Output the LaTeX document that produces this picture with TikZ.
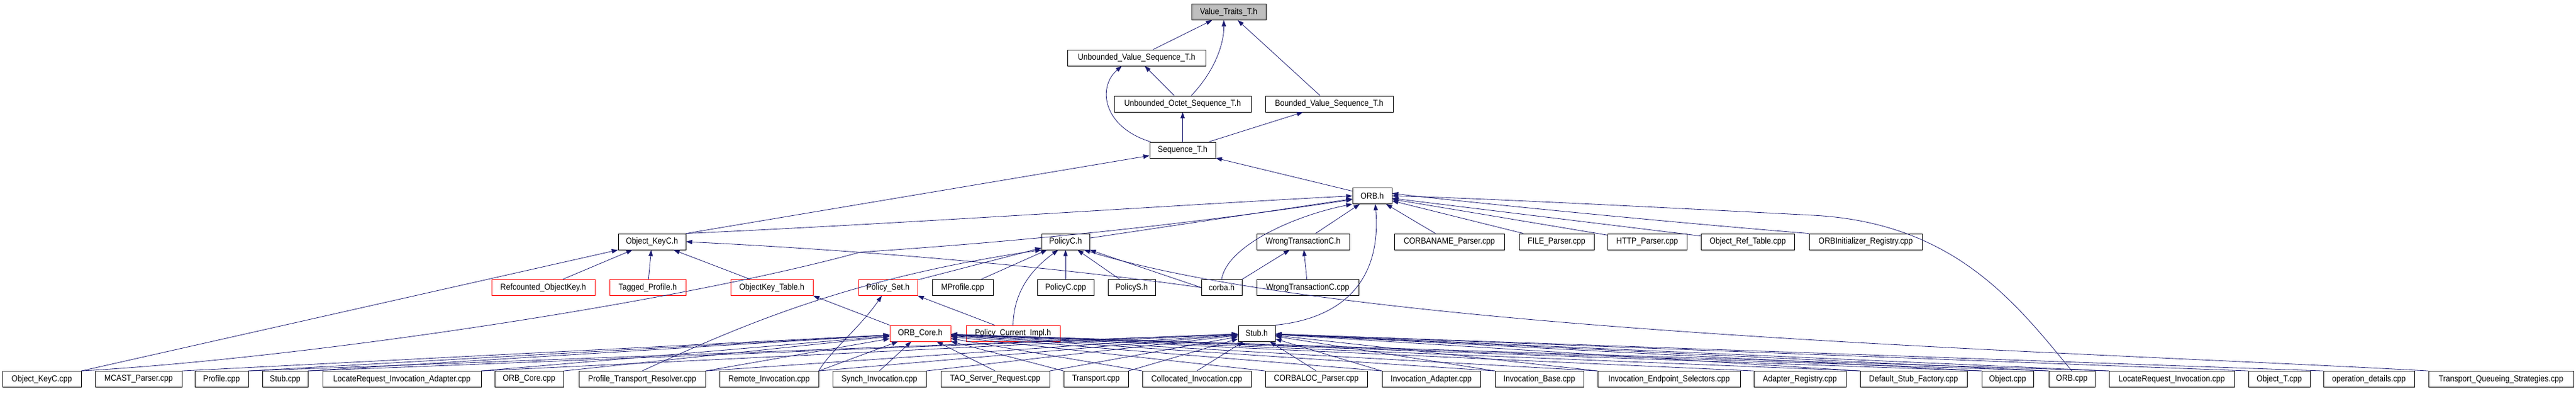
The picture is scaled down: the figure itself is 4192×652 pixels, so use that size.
\documentclass[tikz,border=0pt]{standalone}
\usepackage{fontspec}
\setmainfont{Liberation Sans}[FakeStretch=0.9]
\usetikzlibrary{arrows.meta}

\definecolor{edgeblue}{HTML}{191970}
\tikzset{
  file/.style={draw=black, line width=0.8pt, minimum height=26pt, inner sep=2pt,
    font=\fontsize{14}{16}\selectfont},
  trunc/.style={file, draw=red},
  dep/.style={draw=edgeblue, line width=0.8pt, -{Triangle[length=10pt,width=7pt]}}
}

\begin{document}
\begin{tikzpicture}[x=1pt,y=1pt]
  \useasboundingbox (0,0) rectangle (4192,652);
  % top part
  \node[file, fill=black!25, minimum width=121pt] (valtr) at (1999.5,632.5) {Value\_Traits\_T.h};
  \node[file, minimum width=225pt] (uvseq) at (1849.5,558) {Unbounded\_Value\_Sequence\_T.h};
  \node[file, minimum width=223pt] (uoseq) at (1924.5,483) {Unbounded\_Octet\_Sequence\_T.h};
  \node[file, minimum width=208pt] (bvseq) at (2163,483) {Bounded\_Value\_Sequence\_T.h};
  \node[file, minimum width=107pt] (seqt) at (1924.5,408) {Sequence\_T.h};
  \node[file, minimum width=64pt] (orbh) at (2233,333.5) {ORB.h};
  % row of headers
  \node[file, minimum width=110pt] (okeyh) at (1061,259) {Object\_KeyC.h};
  \node[file, minimum width=78pt] (polch) at (1734,259) {PolicyC.h};
  \node[file, minimum width=151pt] (wtch) at (2120.5,259) {WrongTransactionC.h};
  \node[file, minimum width=179pt] (cnamep) at (2358.5,259) {CORBANAME\_Parser.cpp};
  \node[file, minimum width=122pt] (filep) at (2533,259) {FILE\_Parser.cpp};
  \node[file, minimum width=129pt] (httpp) at (2680.5,259) {HTTP\_Parser.cpp};
  \node[file, minimum width=152pt] (oreft) at (2844,259) {Object\_Ref\_Table.cpp};
  \node[file, minimum width=184pt] (orbinit) at (3036,259) {ORBInitializer\_Registry.cpp};
  \node[trunc, minimum width=168pt] (rcok) at (884,184.5) {Refcounted\_ObjectKey.h};
  \node[trunc, minimum width=124pt] (tagp) at (1054,184.5) {Tagged\_Profile.h};
  \node[trunc, minimum width=134pt] (oktab) at (1256,184.5) {ObjectKey\_Table.h};
  \node[trunc, minimum width=96pt] (polset) at (1445,184.5) {Policy\_Set.h};
  \node[file, minimum width=99pt] (mprof) at (1566.5,184.5) {MProfile.cpp};
  \node[file, minimum width=92pt] (polcc) at (1734,184.5) {PolicyC.cpp};
  \node[file, minimum width=77pt] (polsh) at (1841.5,184.5) {PolicyS.h};
  \node[file, minimum width=66pt] (corbah) at (1988,184.5) {corba.h};
  \node[file, minimum width=166pt] (wtcc) at (2128,184.5) {WrongTransactionC.cpp};
  \node[trunc, minimum width=99pt] (orbcoreh) at (1497.5,110) {ORB\_Core.h};
  \node[trunc, minimum width=153pt] (pcimpl) at (1648.5,110) {Policy\_Current\_Impl.h};
  \node[file, minimum width=60pt] (stubh) at (2045,110) {Stub.h};
  % bottom row
  \node[file, minimum width=128pt] (okeyc) at (68,35.5) {Object\_KeyC.cpp};
  \node[file, minimum width=141pt] (mcast) at (225.5,35.5) {MCAST\_Parser.cpp};
  \node[file, minimum width=87pt] (profc) at (360.5,35.5) {Profile.cpp};
  \node[file, minimum width=74pt] (stubc) at (464,35.5) {Stub.cpp};
  \node[file, minimum width=258pt] (lria) at (654,35.5) {LocateRequest\_Invocation\_Adapter.cpp};
  \node[file, minimum width=112pt] (orbcorec) at (861,35.5) {ORB\_Core.cpp};
  \node[file, minimum width=206pt] (ptr) at (1045,35.5) {Profile\_Transport\_Resolver.cpp};
  \node[file, minimum width=161pt] (remi) at (1251.5,35.5) {Remote\_Invocation.cpp};
  \node[file, minimum width=152pt] (syni) at (1431,35.5) {Synch\_Invocation.cpp};
  \node[file, minimum width=177pt] (tsr) at (1619.5,35.5) {TAO\_Server\_Request.cpp};
  \node[file, minimum width=105pt] (transc) at (1783.5,35.5) {Transport.cpp};
  \node[file, minimum width=177pt] (coli) at (1947.5,35.5) {Collocated\_Invocation.cpp};
  \node[file, minimum width=166pt] (cloc) at (2142,35.5) {CORBALOC\_Parser.cpp};
  \node[file, minimum width=160pt] (inva) at (2329,35.5) {Invocation\_Adapter.cpp};
  \node[file, minimum width=144pt] (invb) at (2505,35.5) {Invocation\_Base.cpp};
  \node[file, minimum width=232pt] (ies) at (2716,35.5) {Invocation\_Endpoint\_Selectors.cpp};
  \node[file, minimum width=150pt] (adreg) at (2929,35.5) {Adapter\_Registry.cpp};
  \node[file, minimum width=174pt] (dsf) at (3114,35.5) {Default\_Stub\_Factory.cpp};
  \node[file, minimum width=84pt] (objc) at (3267,35.5) {Object.cpp};
  \node[file, minimum width=75pt] (orbc) at (3371.5,35.5) {ORB.cpp};
  \node[file, minimum width=204pt] (lri) at (3534,35.5) {LocateRequest\_Invocation.cpp};
  \node[file, minimum width=100pt] (objt) at (3709,35.5) {Object\_T.cpp};
  \node[file, minimum width=148pt] (opd) at (3855,35.5) {operation\_details.cpp};
  \node[file, minimum width=236pt] (tqs) at (4070,35.5) {Transport\_Queueing\_Strategies.cpp};

  % sequences
  \draw[dep] (uvseq) -- (valtr);
  \draw[dep] ([xshift=14pt]uoseq.north) .. controls (1980,540) and (1992,585) .. ([xshift=-8pt]valtr.south);
  \draw[dep] (bvseq) -- (valtr);
  \draw[dep] (uoseq) -- (uvseq);
  \draw[dep] ([xshift=2pt]seqt.north west) .. controls (1795,445) and (1785,510) .. ([xshift=-24pt]uvseq.south);
  \draw[dep] (seqt) -- (uoseq);
  \draw[dep] (seqt) -- (bvseq);
  \draw[dep] (orbh) -- (seqt);
  \draw[dep] (okeyh.north east) -- (seqt);
  % into ORB.h
  \draw[dep] (okeyh.north east) .. controls (1500,290) and (1900,318) .. (orbh.west);
  \draw[dep] (okeyc.north east) .. controls (500,70) and (1100,160) .. (1400,242)
    .. controls (1700,262) and (1950,290) .. ([yshift=-6pt]orbh.west);
  \foreach \n in {polch,wtch,cnamep,filep,httpp,oreft}
    \draw[dep] (\n) -- (orbh);
  \draw[dep] (orbinit.north west) .. controls (2700,292) and (2400,322) .. ([yshift=4pt]orbh.east);
  \draw[dep] (corbah.north) .. controls (1996,250) and (2100,300) .. (orbh.south west);
  \draw[dep] (stubh.north east) .. controls (2190,135) and (2248,200) .. ([xshift=5pt]orbh.south);
  \draw[dep] (orbc.north) .. controls (3280,160) and (3180,290) .. (2950,302)
    .. controls (2700,315) and (2400,330) .. (orbh.east);
  % Object_KeyC.h and PolicyC.h
  \foreach \n in {rcok,tagp,oktab}
    \draw[dep] (\n) -- (okeyh);
  \draw[dep] (okeyc.north east) -- (okeyh.south west);
  \draw[dep] (corbah.west) .. controls (1700,220) and (1400,245) .. (okeyh.east);
  \foreach \n in {polset,mprof,polcc,polsh}
    \draw[dep] (\n) -- (polch);
  \draw[dep] (corbah.west) -- (polch.south east);
  \draw[dep] (pcimpl.north) .. controls (1650,180) and (1680,215) .. ([xshift=-12pt]polch.south);
  \draw[dep] (ptr.north) .. controls (1200,120) and (1380,200) .. (polch.south west);
  \draw[dep] (tqs.north west) .. controls (3400,80) and (2200,110) .. ([xshift=30pt]polch.south);
  \draw[dep] (wtcc) -- (wtch);
  \draw[dep] (corbah.north east) -- (wtch);
  \draw[dep] (orbcoreh.north west) -- (oktab.south east);
  \draw[dep] ([xshift=-30pt]pcimpl.north) -- (polset.south east);
  \draw[dep] (remi.north east) .. controls (1350,80) and (1400,120) .. ([xshift=-10pt]polset.south);
  % bottom files
  \foreach \n in {mcast,profc,stubc,lria,orbcorec,ptr,remi}
    \draw[dep] (\n.north east) -- (orbcoreh);
  \draw[dep] (syni.north) -- (orbcoreh);
  \draw[dep] (tsr.north) -- (orbcoreh);
  \foreach \n in {transc,coli,cloc,inva,invb,ies,adreg,dsf,objc,orbc,lri}
    \draw[dep] (\n.north west) -- (orbcoreh);
  \foreach \n in {profc,stubc,lria,ptr,remi,syni,tsr,transc}
    \draw[dep] (\n.north east) -- (stubh);
  \draw[dep] (coli.north) -- (stubh);
  \draw[dep] (cloc.north) -- (stubh);
  \foreach \n in {inva,invb,ies,dsf,objc,orbc,lri,objt,opd}
    \draw[dep] (\n.north west) -- (stubh);
\end{tikzpicture}
\end{document}
